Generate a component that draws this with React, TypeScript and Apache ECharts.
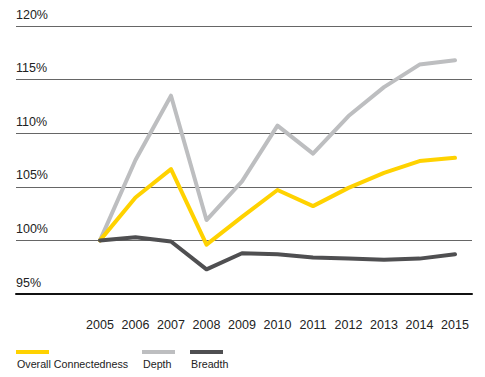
import React, { useEffect, useRef } from "react";
import * as echarts from "echarts";

const years = ["2005", "2006", "2007", "2008", "2009", "2010", "2011", "2012", "2013", "2014", "2015"];
const overall = [100, 104.0, 106.65, 99.6, 102.2, 104.7, 103.2, 104.9, 106.3, 107.4, 107.7];
const depth = [100, 107.5, 113.5, 101.9, 105.5, 110.7, 108.1, 111.6, 114.3, 116.4, 116.8];
const breadth = [100, 100.3, 99.9, 97.3, 98.8, 98.7, 98.4, 98.3, 98.2, 98.3, 98.7];
const yTicks = [95, 100, 105, 110, 115, 120];
const legendNames = ["Overall Connectedness", "Depth", "Breadth"];

const YELLOW = "#FFD200";
const LIGHT = "#BDBEC0";
const DARK = "#4F4F51";

export default function App() {
  const ref = useRef<HTMLDivElement>(null);
  useEffect(() => {
    if (!ref.current) return;
    const chart = echarts.init(ref.current, null, { renderer: "svg" });
    const font = "'Liberation Sans', Arial, sans-serif";
    const legendX = [16, 142, 190];
    const colors = [YELLOW, LIGHT, DARK];
    const graphic: any[] = [];
    legendNames.forEach((n, i) => {
      graphic.push({
        type: "rect",
        left: legendX[i],
        top: 350,
        shape: { width: 33, height: 4 },
        style: { fill: colors[i] },
      });
      graphic.push({
        type: "text",
        left: legendX[i] + 1,
        top: 358,
        style: { text: n, fill: "#222", font: `10.7px ${font}` },
      });
    });
    chart.setOption({
      animation: false,
      graphic,
      grid: [
        { left: 16, right: 13, top: 26, bottom: 83 },
        { left: 100, right: 30, top: 26, bottom: 83 },
      ],
      xAxis: [
        {
          gridIndex: 0,
          type: "value",
          min: 0,
          max: 1,
          show: true,
          axisLine: { show: true, lineStyle: { color: "#111", width: 2 } },
          axisTick: { show: false },
          axisLabel: { show: false },
          splitLine: { show: false },
        },
        {
          gridIndex: 1,
          type: "category",
          data: years,
          boundaryGap: false,
          axisLine: { show: false },
          axisTick: { show: false },
          axisLabel: { color: "#222", fontSize: 12.5, fontFamily: font, margin: 24, interval: 0 },
        },
      ],
      yAxis: [
        {
          gridIndex: 0,
          type: "value",
          min: yTicks[0],
          max: yTicks[yTicks.length - 1],
          interval: 5,
          axisLine: { show: false },
          axisTick: { show: false },
          splitLine: { show: true, lineStyle: { color: "#666", width: 1 } },
          axisLabel: {
            inside: true,
            margin: 0,
            align: "left",
            verticalAlign: "bottom",
            padding: [0, 0, 5, 0],
            color: "#222",
            fontSize: 12.5,
            fontFamily: font,
            formatter: (v: number) => v + "%",
          },
        },
        {
          gridIndex: 1,
          type: "value",
          min: yTicks[0],
          max: yTicks[yTicks.length - 1],
          interval: 5,
          show: false,
          splitLine: { show: false },
        },
      ],
      series: [
        {
          name: "Depth",
          type: "line",
          xAxisIndex: 1,
          yAxisIndex: 1,
          data: depth,
          symbol: "none",
          lineStyle: { color: LIGHT, width: 4, join: "round", cap: "round" },
        },
        {
          name: "Overall Connectedness",
          type: "line",
          xAxisIndex: 1,
          yAxisIndex: 1,
          data: overall,
          symbol: "none",
          lineStyle: { color: YELLOW, width: 4, join: "round", cap: "round" },
        },
        {
          name: "Breadth",
          type: "line",
          xAxisIndex: 1,
          yAxisIndex: 1,
          data: breadth,
          symbol: "none",
          lineStyle: { color: DARK, width: 4, join: "round", cap: "round" },
        },
      ],
    });
    return () => chart.dispose();
  }, []);
  return <div ref={ref} style={{ width: 485, height: 377, position: "absolute", left: 0, top: 0 }} />;
}
